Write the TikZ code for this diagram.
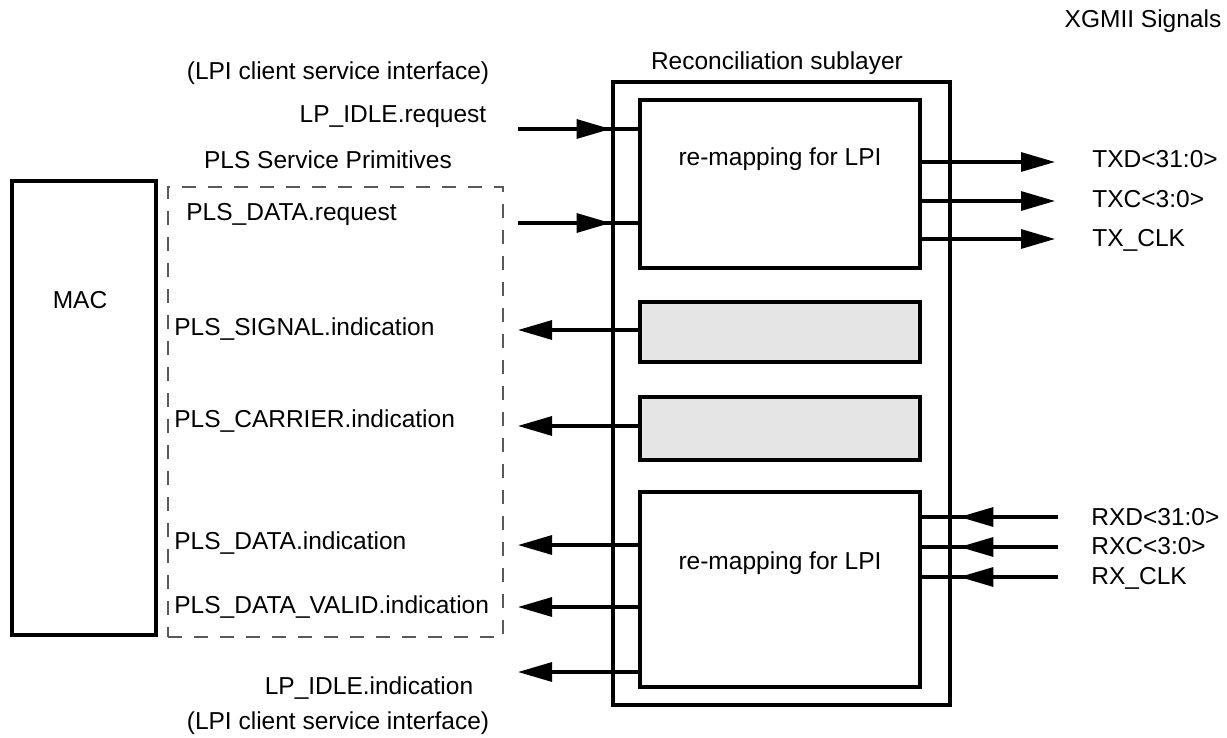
\documentclass[tikz,border=0pt]{standalone}
\usepackage{fontspec}
\setmainfont{Liberation Sans}
\usetikzlibrary{arrows.meta}
\usetikzlibrary{calc}

\begin{document}
\begin{tikzpicture}[x = 0.5pt, y = -0.5pt, font = \fontsize{12.25}{14.5}\selectfont]
	\tikzstyle{boxStyle} = [draw, line width = 2pt, inner sep = 0pt]
	\tikzstyle{shadedStyle} = [boxStyle, fill = gray!20, minimum width = 140pt]
	\tikzstyle{dashedStyle} = [draw = black!65, line width = 0.7pt, dash pattern = on 7pt off 6pt, inner sep = 0pt]
	\tikzstyle{labelStyle} = [inner sep = 0pt, text height = 0.85em, text depth = 0.11em]
	\tikzstyle{leftStyle} = [labelStyle, anchor = west]
	\tikzstyle{wireStyle} = [line width = 1.6pt]
	\tikzstyle{signalStyle} = [wireStyle, -{Triangle[length = 17pt, width = 9.5pt]}]
	\useasboundingbox (0, 0) rectangle (1227, 738);
	% boxes
	\node[boxStyle, minimum width = 72pt, minimum height = 227pt] (mac) at (84, 408) {};
	\node[dashedStyle, minimum width = 167.5pt, minimum height = 225pt] (prims) at (335.5, 412) {};
	\node[boxStyle, line width = 2.4pt, minimum width = 168.5pt, minimum height = 311.5pt] (rs) at (781.5, 393.5) {};
	\node[boxStyle, minimum width = 140pt, minimum height = 84pt] (maptx) at (780, 184) {};
	\node[shadedStyle, minimum height = 30pt] (sig) at (780, 332) {};
	\node[shadedStyle, minimum height = 31.5pt] (car) at (780, 428.5) {};
	\node[boxStyle, minimum width = 140pt, minimum height = 97.5pt] (maprx) at (780, 589.5) {};
	% texts
	\node[labelStyle] (xgmii) at (1143, 20) {XGMII Signals};
	\node[labelStyle] (rslabel) at (777, 62) {Reconciliation sublayer};
	\node[labelStyle] (lpitop) at (338, 72) {(LPI client service interface)};
	\node[labelStyle] (lpreq) at (393, 115) {LP\_IDLE.request};
	\node[labelStyle] (primlabel) at (328, 161) {PLS Service Primitives};
	\node[leftStyle] (plsreq) at (186, 213) {PLS\_DATA.request};
	\node[labelStyle] (maclabel) at (80, 301) {MAC};
	\node[leftStyle] (sigind) at (174, 328) {PLS\_SIGNAL.indication};
	\node[leftStyle] (carind) at (174, 420) {PLS\_CARRIER.indication};
	\node[leftStyle] (dataind) at (174, 542) {PLS\_DATA.indication};
	\node[leftStyle] (validind) at (174, 606) {PLS\_DATA\_VALID.indication};
	\node[labelStyle] (lpind) at (369, 687) {LP\_IDLE.indication};
	\node[labelStyle] (lpibot) at (338, 722) {(LPI client service interface)};
	\node[labelStyle] (maptxlabel) at (780, 158) {re-mapping for LPI};
	\node[labelStyle] (maprxlabel) at (780, 562) {re-mapping for LPI};
	\node[leftStyle] (txd) at (1092, 160) {TXD<31:0>};
	\node[leftStyle] (txc) at (1092, 200) {TXC<3:0>};
	\node[leftStyle] (txclk) at (1092, 239) {TX\_CLK};
	\node[leftStyle] (rxd) at (1091, 518) {RXD<31:0>};
	\node[leftStyle] (rxc) at (1091, 547) {RXC<3:0>};
	\node[leftStyle] (rxclk) at (1091, 577) {RX\_CLK};
	% free ends
	\coordinate (lpreqIn) at (518, 129);
	\coordinate (plsreqIn) at (518, 223);
	\coordinate (sigOut) at (518, 330);
	\coordinate (carOut) at (518, 426);
	\coordinate (dataOut) at (518, 545);
	\coordinate (validOut) at (518, 607);
	\coordinate (lpindOut) at (518, 672);
	\coordinate (txdOut) at (1055, 162);
	\coordinate (txcOut) at (1055, 201);
	\coordinate (txclkOut) at (1055, 239);
	\coordinate (rxdIn) at (1058, 517);
	\coordinate (rxcIn) at (1058, 547);
	\coordinate (rxclkIn) at (1058, 577);
	% MAC side signals
	\draw[wireStyle] (lpreqIn) -- (lpreqIn -| maptx.west);
	\draw[signalStyle] (lpreqIn) -- (lpreqIn -| rs.west);
	\draw[wireStyle] (plsreqIn) -- (plsreqIn -| maptx.west);
	\draw[signalStyle] (plsreqIn) -- (plsreqIn -| rs.west);
	\draw[signalStyle] (sigOut -| sig.west) -- (sigOut);
	\draw[signalStyle] (carOut -| car.west) -- (carOut);
	\draw[signalStyle] (dataOut -| maprx.west) -- (dataOut);
	\draw[signalStyle] (validOut -| maprx.west) -- (validOut);
	\draw[signalStyle] (lpindOut -| maprx.west) -- (lpindOut);
	% XGMII side signals
	\draw[signalStyle] (txdOut -| maptx.east) -- (txdOut);
	\draw[signalStyle] (txcOut -| maptx.east) -- (txcOut);
	\draw[signalStyle] (txclkOut -| maptx.east) -- (txclkOut);
	\draw[wireStyle] (rxdIn) -- (rxdIn -| maprx.east);
	\draw[signalStyle] (rxdIn) -- ($(rxdIn -| rs.east) + (7, 0)$);
	\draw[wireStyle] (rxcIn) -- (rxcIn -| maprx.east);
	\draw[signalStyle] (rxcIn) -- ($(rxcIn -| rs.east) + (7, 0)$);
	\draw[wireStyle] (rxclkIn) -- (rxclkIn -| maprx.east);
	\draw[signalStyle] (rxclkIn) -- ($(rxclkIn -| rs.east) + (7, 0)$);
\end{tikzpicture}
\end{document}
